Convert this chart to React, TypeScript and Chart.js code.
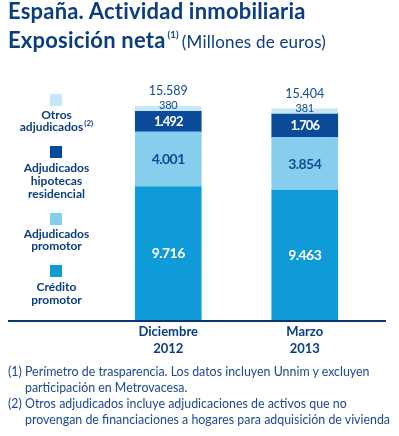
import React, { useEffect, useRef } from "react";
import { Chart, registerables } from "chart.js";

Chart.register(...registerables);

// ---- data ----
const categories = [["Diciembre", "2012"], ["Marzo", "2013"]];
const creditoPromotor = [9716, 9463];
const adjudicadosPromotor = [4001, 3854];
const adjudicadosHipotecas = [1492, 1706];
const otrosAdjudicados = [380, 381];
const totals = [15589, 15404];
const yMax = 17500;

// ---- styles ----
const NAVY = "#0b3d83";
const LABEL_BLUE = "#114a97";
const NOTE_COLOR = "#1a4a90";
const C_CREDITO = "#0e9bd8";
const C_ADJ_PROM = "#86cdee";
const C_ADJ_HIP = "#0b4a98";
const C_OTROS = "#c6e7f6";
const FONT = "Lato, 'Open Sans', sans-serif";

const fmt = (v: number) => String(v).replace(/\B(?=(\d{3})+(?!\d))/g, ".");

const innerLabelStyles = [
  { color: "#ffffff", font: `bold 14px ${FONT}`, ls: "-0.6px" },
  { color: LABEL_BLUE, font: `bold 14px ${FONT}`, ls: "-0.6px" },
  { color: "#ffffff", font: `bold 13px ${FONT}`, ls: "-0.9px" },
];

const labelsPlugin = {
  id: "valueLabels",
  afterDatasetsDraw(chart: any) {
    const ctx = chart.ctx as CanvasRenderingContext2D;
    ctx.save();
    ctx.textAlign = "center";
    ctx.textBaseline = "middle";
    const n = chart.data.datasets.length;
    chart.data.datasets.forEach((ds: any, i: number) => {
      const meta = chart.getDatasetMeta(i);
      meta.data.forEach((el: any, j: number) => {
        const { x, y, base } = el.getProps(["x", "y", "base"], true);
        const v = ds.data[j] as number;
        if (i < innerLabelStyles.length) {
          const st = innerLabelStyles[i];
          ctx.fillStyle = st.color;
          ctx.font = st.font;
          (ctx as any).letterSpacing = st.ls;
          ctx.fillText(fmt(v), x, (y + base) / 2 + 0.5);
        } else {
          // top small segment: label on its top edge
          ctx.fillStyle = LABEL_BLUE;
          ctx.font = `11px ${FONT}`;
          (ctx as any).letterSpacing = "-0.2px";
          ctx.fillText(fmt(v), x, y - 0.5);
          if (i === n - 1) {
            ctx.font = `12.5px ${FONT}`;
            (ctx as any).letterSpacing = "0px";
            ctx.fillText(fmt(totals[j]), x, y - 15);
          }
        }
      });
    });
    ctx.restore();
  },
};

const axisLinePlugin = {
  id: "axisLine",
  afterDatasetsDraw(chart: any) {
    const ctx = chart.ctx as CanvasRenderingContext2D;
    const { bottom, right } = chart.chartArea;
    ctx.save();
    ctx.strokeStyle = "#0b3470";
    ctx.lineWidth = 1.8;
    ctx.beginPath();
    ctx.moveTo(8, bottom + 0.9);
    ctx.lineTo(right + 13, bottom + 0.9);
    ctx.stroke();
    ctx.restore();
  },
};

function BarChart() {
  const ref = useRef<HTMLCanvasElement | null>(null);
  useEffect(() => {
    if (!ref.current) return;
    const barOpts = { barThickness: 66, borderWidth: 0 };
    const chart = new Chart(ref.current, {
      type: "bar",
      data: {
        labels: categories as any,
        datasets: [
          { label: "Crédito promotor", data: creditoPromotor, backgroundColor: C_CREDITO, ...barOpts },
          { label: "Adjudicados promotor", data: adjudicadosPromotor, backgroundColor: C_ADJ_PROM, ...barOpts },
          { label: "Adjudicados hipotecas residencial", data: adjudicadosHipotecas, backgroundColor: C_ADJ_HIP, ...barOpts },
          { label: "Otros adjudicados", data: otrosAdjudicados, backgroundColor: C_OTROS, ...barOpts },
        ],
      },
      options: {
        responsive: false,
        animation: false,
        layout: { padding: { left: 100, right: 26, top: 80, bottom: 75.4 } },
        plugins: { legend: { display: false }, tooltip: { enabled: false } },
        scales: {
          x: {
            stacked: true,
            grid: { display: false, drawTicks: false },
            border: { display: false },
            ticks: {
              color: NAVY,
              font: { family: FONT, weight: "bold", size: 13, lineHeight: 1.25 },
              padding: 4,
              maxRotation: 0,
              autoSkip: false,
            },
          },
          y: { stacked: true, display: false, min: 0, max: yMax },
        },
      },
      plugins: [axisLinePlugin, labelsPlugin],
    } as any);
    return () => chart.destroy();
  }, []);
  return (
    <canvas
      ref={ref}
      width={399}
      height={436}
      style={{ position: "absolute", left: 0, top: 0, width: 399, height: 436 }}
    />
  );
}

const legendItems = [
  { color: C_OTROS, sq: 94, tt: 108.7, lines: ["Otros", "adjudicados"], sup: "(2)" },
  { color: C_ADJ_HIP, sq: 146.3, tt: 162.3, lines: ["Adjudicados", "hipotecas", "residencial"] },
  { color: C_ADJ_PROM, sq: 213.3, tt: 227.5, lines: ["Adjudicados", "promotor"] },
  { color: C_CREDITO, sq: 265, tt: 281.3, lines: ["Crédito", "promotor"] },
];

export default function App() {
  return (
    <div
      style={{
        position: "absolute",
        left: 0,
        top: 0,
        width: 399,
        height: 436,
        overflow: "hidden",
        background: "#ffffff",
        fontFamily: FONT,
      }}
    >
      <BarChart />
      <div
        style={{
          position: "absolute",
          left: 8,
          top: -2,
          font: `bold 22px/26px ${FONT}`,
          letterSpacing: "0.2px",
          color: NAVY,
          whiteSpace: "nowrap",
        }}
      >
        España. Actividad inmobiliaria
      </div>
      <div
        style={{
          position: "absolute",
          left: 8,
          top: 27,
          font: `bold 22px/26px ${FONT}`,
          letterSpacing: "0.2px",
          color: NAVY,
          whiteSpace: "nowrap",
        }}
      >
        Exposición neta
        <span style={{ fontSize: 9.5, position: "relative", top: -10, marginLeft: 2 }}>(1)</span>
        <span style={{ fontWeight: "normal", fontSize: 17, letterSpacing: "0.2px", marginLeft: 3 }}>
          (Millones de euros)
        </span>
      </div>

      {legendItems.map((it, k) => (
        <React.Fragment key={k}>
          <div
            style={{
              position: "absolute",
              left: 50,
              top: it.sq,
              width: 12,
              height: 12,
              background: it.color,
            }}
          />
          <div
            style={{
              position: "absolute",
              left: 0,
              top: it.tt,
              width: 113,
              textAlign: "center",
              font: `bold 12px/12.7px ${FONT}`,
              color: NAVY,
              whiteSpace: "nowrap",
            }}
          >
            {it.lines.map((l, m) => (
              <div key={m}>
                {l}
                {it.sup && m === it.lines.length - 1 ? (
                  <span style={{ fontSize: 8, position: "relative", top: -5, marginLeft: 1 }}>{it.sup}</span>
                ) : null}
              </div>
            ))}
          </div>
        </React.Fragment>
      ))}

      <div
        style={{
          position: "absolute",
          left: 8,
          top: 363.9,
          font: `12.4px/16px ${FONT}`,
          color: NOTE_COLOR,
          letterSpacing: "0px",
          whiteSpace: "nowrap",
        }}
      >
        <div style={{ display: "flex" }}>
          <div style={{ width: 17 }}>(1)</div>
          <div>
            Perímetro de trasparencia. Los datos incluyen Unnim y excluyen
            <br />
            participación en Metrovacesa.
          </div>
        </div>
        <div style={{ display: "flex" }}>
          <div style={{ width: 17 }}>(2)</div>
          <div>
            Otros adjudicados incluye adjudicaciones de activos que no
            <br />
            provengan de financiaciones a hogares para adquisición de vivienda
          </div>
        </div>
      </div>
    </div>
  );
}
